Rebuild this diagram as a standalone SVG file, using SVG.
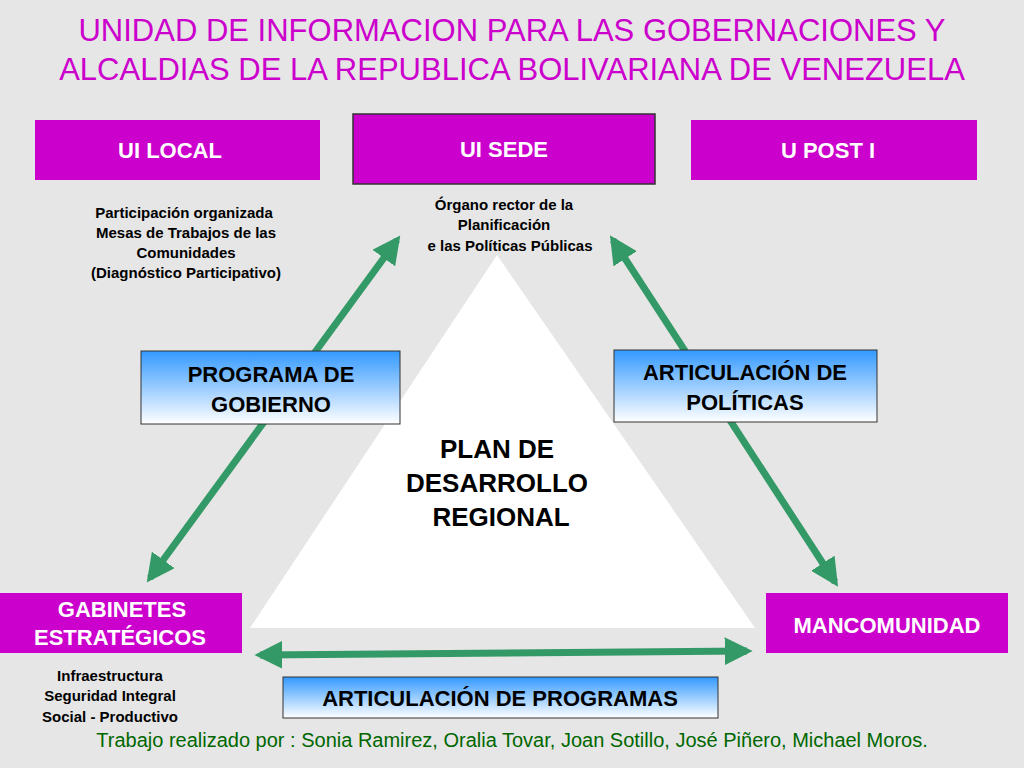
<svg xmlns="http://www.w3.org/2000/svg" width="1024" height="768" viewBox="0 0 1024 768">
<defs>
<style>
.t{font-family:"Liberation Sans",Arial,sans-serif}
.mg{fill:#cc00cc}
.wt{fill:#fff;font-weight:bold;font-size:22px}
.sm{fill:#000;font-weight:bold;font-size:15px}
.bx{font-weight:bold;font-size:22px;fill:#000}
.gr{stroke:#339966;stroke-width:7;fill:none;marker-start:url(#a);marker-end:url(#a)}
</style>
<linearGradient id="g" x1="0" y1="0" x2="0" y2="1"><stop offset="0" stop-color="#3399ff"/><stop offset="1" stop-color="#ffffff"/></linearGradient>
<marker id="a" viewBox="0 0 10 10" refX="8" refY="5" markerWidth="4" markerHeight="4" orient="auto-start-reverse"><path d="M0,0L10,5L0,10z" fill="#339966"/></marker>
</defs>
<rect width="1024" height="768" fill="#e6e6e6"/>
<g class="t" fill="#cc00cc" font-size="31" text-anchor="middle">
<text x="512" y="41">UNIDAD DE INFORMACION PARA LAS GOBERNACIONES Y</text>
<text x="512" y="80">ALCALDIAS DE LA REPUBLICA BOLIVARIANA DE VENEZUELA</text>
</g>
<g id="plan"><polygon points="497,255 250,628 755,628" fill="#fff"/>
<text class="t" x="497" y="458" text-anchor="middle" font-weight="bold" font-size="26">PLAN DE</text>
<text class="t" x="497" y="492" text-anchor="middle" font-weight="bold" font-size="26">DESARROLLO</text>
<text class="t" x="501" y="526" text-anchor="middle" font-weight="bold" font-size="26">REGIONAL</text></g>
<g id="connectors">
<line class="gr" x1="150" y1="578" x2="397" y2="240"/>
<line class="gr" x1="613" y1="240" x2="835" y2="582"/>
<line class="gr" x1="260" y1="655" x2="747" y2="651"/>
</g>
<g id="uilocal"><rect class="mg" x="35" y="120" width="285" height="60"/><text class="t wt" x="170" y="158" text-anchor="middle">UI LOCAL</text>
<g class="t sm" text-anchor="middle"><text x="184" y="218">Participación organizada</text><text x="186" y="238">Mesas de Trabajos de las</text><text x="186" y="258">Comunidades</text><text x="186" y="278">(Diagnóstico Participativo)</text></g></g>
<g id="uisede"><rect class="mg" x="353" y="114" width="302" height="70" stroke="#333" stroke-width="1.5"/><text class="t wt" x="504" y="157" text-anchor="middle">UI SEDE</text>
<g class="t sm" text-anchor="middle"><text x="504" y="210">Órgano rector de la</text><text x="504" y="230">Planificación</text><text x="510" y="251">e las Políticas Públicas</text></g></g>
<g id="upost"><rect class="mg" x="691" y="120" width="286" height="60"/><text class="t wt" x="828" y="158" text-anchor="middle">U  POST I</text></g>
<g id="gabinetes"><rect class="mg" x="0" y="593" width="242" height="60"/><text class="t wt" x="122" y="617" text-anchor="middle">GABINETES</text><text class="t wt" x="120" y="645" text-anchor="middle">ESTRATÉGICOS</text>
<g class="t sm" text-anchor="middle"><text x="110" y="681">Infraestructura</text><text x="110" y="701">Seguridad Integral</text><text x="110" y="722">Social - Productivo</text></g></g>
<g id="mancomunidad"><rect class="mg" x="766" y="593" width="242" height="60"/><text class="t wt" x="887" y="633" text-anchor="middle">MANCOMUNIDAD</text></g>
<g id="programa"><rect x="141" y="351" width="259" height="73" fill="url(#g)" stroke="#333"/><text class="t bx" x="271" y="382" text-anchor="middle">PROGRAMA DE</text><text class="t bx" x="271" y="412" text-anchor="middle">GOBIERNO</text></g>
<g id="artpol"><rect x="614" y="350" width="263" height="72" fill="url(#g)" stroke="#333"/><text class="t bx" x="745" y="380" text-anchor="middle">ARTICULACIÓN DE</text><text class="t bx" x="745" y="410" text-anchor="middle">POLÍTICAS</text></g>
<g id="artprog"><rect x="283" y="677" width="435" height="41" fill="url(#g)" stroke="#333"/><text class="t bx" x="500" y="706" text-anchor="middle">ARTICULACIÓN DE PROGRAMAS</text></g>
<text class="t" x="512" y="747" text-anchor="middle" font-size="20" fill="#006600">Trabajo realizado por : Sonia Ramirez, Oralia Tovar, Joan Sotillo, José Piñero, Michael Moros.</text>
</svg>
